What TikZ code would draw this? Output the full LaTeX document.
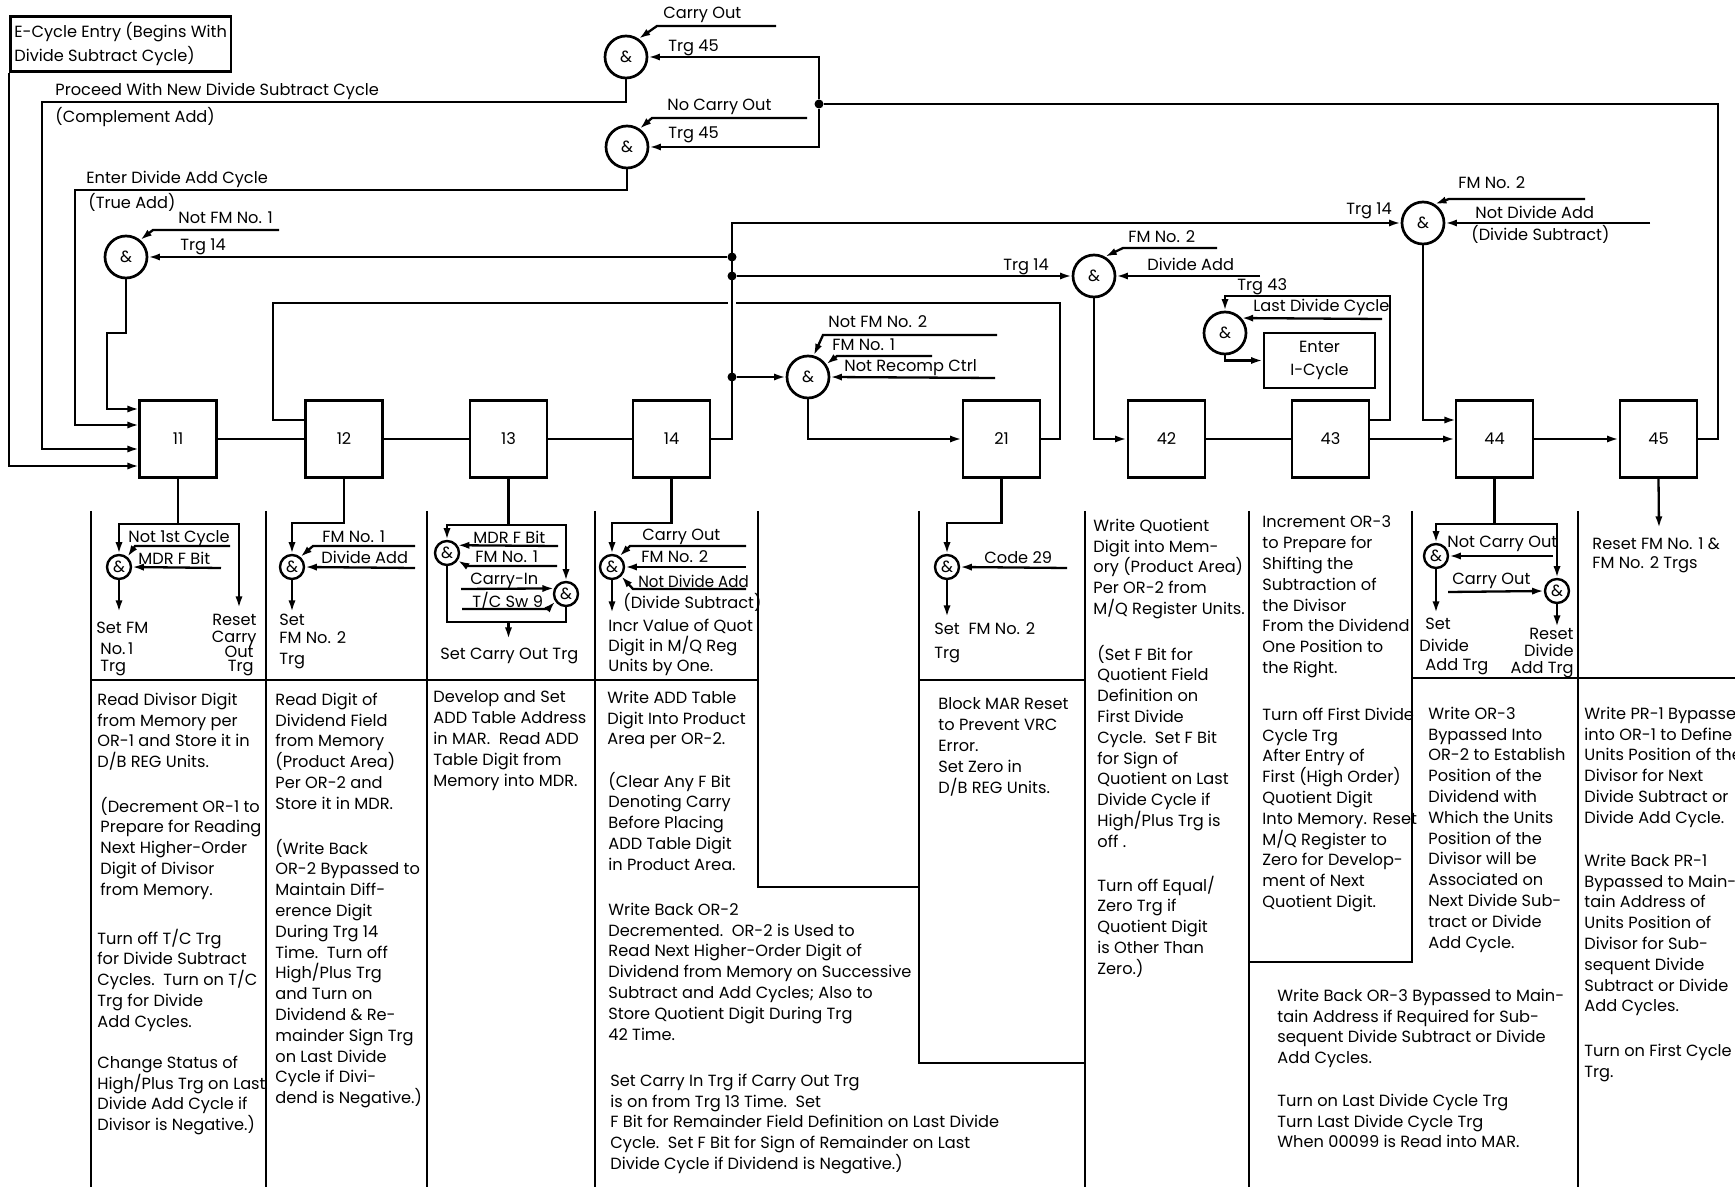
\documentclass[tikz,border=0pt]{standalone}
\usepackage{fontspec}
\setmainfont{Poppins}
\usetikzlibrary{arrows.meta,calc}
\newcommand\tfnt{\fontsize{8.1pt}{10.4pt}\selectfont}
\newcounter{lbc}
\newcommand\lab[4][lb]{\stepcounter{lbc}\node[#1] (t\thelbc) at (#2,#3+6) {#4};}
\newcommand\blk[3]{\stepcounter{lbc}\node[bk] (t\thelbc) at (#1,#2-8.5) {#3};}
\tikzset{
 ln/.style={line width=1.15pt},
 arr/.style={line width=1.15pt, -{Latex[length=5.8pt,width=3.6pt]}},
 box/.style={draw, line width=1.35pt, minimum width=38.5pt, minimum height=38.5pt, inner sep=0pt, font=\tfnt},
 gate/.style={draw, circle, line width=1.35pt, minimum size=21pt, inner sep=0pt, font=\tfnt},
 sg/.style={draw, circle, line width=1.2pt, minimum size=12pt, inner sep=0pt, font=\tfnt},
 jdot/.style={circle, fill, minimum size=4.5pt, inner sep=0pt},
 lb/.style={anchor=base west, inner sep=0pt, font=\tfnt},
 lbr/.style={anchor=base east, inner sep=0pt, font=\tfnt},
 bk/.style={anchor=north west, inner sep=0pt, align=left, font=\tfnt, execute at begin node=\strut},
}
\begin{document}
\begin{tikzpicture}[x=0.5pt,y=-0.5pt]
\fill[white] (0,0) rectangle (1735,1187);
\useasboundingbox (0,0) rectangle (1735,1187);

% ---------- boxes ----------
\node[box] (b11) at (178,439) {11};
\node[box] (b12) at (344,439) {12};
\node[box] (b13) at (508.5,439) {13};
\node[box] (b14) at (671.5,439) {14};
\node[box] (b21) at (1001.5,439) {21};
\node[box] (b42) at (1166.5,439) {42};
\node[box] (b43) at (1330.5,439) {43};
\node[box] (b44) at (1494.5,439) {44};
\node[box] (b45) at (1658.5,439) {45};

\node[draw, line width=1.35pt, anchor=north west, minimum width=110pt, minimum height=27.5pt, inner sep=2pt, align=left, font=\tfnt] (ecyc) at (9,15) {E-Cycle Entry (Begins With\\[1.5pt]Divide Subtract Cycle)};
\node[draw, line width=1.35pt, minimum width=55.5pt, minimum height=27.5pt, inner sep=0pt, align=center, font=\tfnt] (icyc) at (1319.5,360.5) {Enter\\[1pt]I-Cycle};

% ---------- gates ----------
\node[gate] (gA) at (626,57) {\&};
\node[gate] (gB) at (627,147) {\&};
\node[gate] (gC) at (126,257) {\&};
\node[gate] (gD) at (1094,276) {\&};
\node[gate] (gE) at (1423,223) {\&};
\node[gate] (gF) at (808,377) {\&};
\node[gate] (gG) at (1225,333) {\&};
\node[sg] (s11) at (119,567) {\&};
\node[sg] (s12) at (292,567) {\&};
\node[sg] (s13a) at (447,553) {\&};
\node[sg] (s13b) at (566,594) {\&};
\node[sg] (s14) at (612,567) {\&};
\node[sg] (s21) at (947,567) {\&};
\node[sg] (s44a) at (1436,556) {\&};
\node[sg] (s44b) at (1557,591) {\&};

% ---------- junctions ----------
\coordinate (jT) at (732,223);
\node[jdot] (j1) at (732,257) {};
\node[jdot] (j2) at (732,276) {};
\node[jdot] (j3) at (732,377) {};
\node[jdot] (jAB) at (819,104) {};

% ---------- feedback 21 -> 12 ----------
\coordinate (fb1) at (1060,303);
\coordinate (fb2) at (273,303);
\coordinate (i12) at (306,420);
\draw[ln] (b21.east) -| (fb1) -- (fb2) |- (i12);
\draw[white, line width=4pt] (732,295) -- (732,311);

% ---------- trunk from 14 ----------
\draw[arr] (b14.east) -| (jT) -- (gE.west);
\draw[arr] (j1) -- (gC.east);
\draw[arr] (j2) -- (gD.west);
\draw[arr] (j3) -- (gF.west);

% ---------- 45 feedback ----------
\coordinate (fbR) at (1718,104);
\draw[ln] (b45.east) -| (fbR) -- (jAB);
\draw[arr] (jAB) |- (gA.east);
\draw[arr] (jAB) |- (gB.east);

% ---------- entries to 11 ----------
\coordinate (i1) at (139,409);
\coordinate (i2) at (139,425);
\coordinate (i3) at (139,449);
\coordinate (i4) at (139,466);
\coordinate (cA) at (42,102);
\coordinate (cB) at (75,190);
\coordinate (cC) at (107,333);
\draw[arr] (ecyc.south west) |- (i4);
\draw[arr] (gA.south) |- (cA) |- (i3);
\draw[arr] (gB.south) |- (cB) |- (i2);
\draw[arr] (gC.south) |- (cC) |- (i1);

% ---------- gate inputs (top) ----------
\coordinate (eA) at (776,26);
\draw[arr] (eA) -- (657,26) -- (gA.55);
\coordinate (eB) at (807,118);
\draw[arr] (eB) -- (652,118) -- (gB.55);
\coordinate (eC) at (279,230);
\draw[arr] (eC) -- (153,230) -- (gC.50);
\coordinate (eD1) at (1217,248);
\draw[arr] (eD1) -- (1123,248) -- (gD.60);
\coordinate (eD2) at (1260,276);
\draw[arr] (eD2) -- (gD.east);
\coordinate (eE1) at (1585,199);
\draw[arr] (eE1) -- (1449,199) -- (gE.58);
\coordinate (eE2) at (1650,223);
\draw[arr] (eE2) -- (gE.east);
\coordinate (eF1) at (997,335);
\draw[arr] (eF1) -- (823,335) -- (gF.75);
\coordinate (eF2) at (932,356);
\draw[arr] (eF2) -- (837,356) -- (gF.35);
\coordinate (eF3) at (995,378);
\draw[arr] (eF3) -- (gF.east);
\draw[arr] (gF.south) |- (b21.west);
\draw[arr] (gD.south) |- (b42.west);
\coordinate (i44) at (1456,420);
\draw[arr] (gE.south) |- (i44);
\coordinate (o43) at (1369,420);
\coordinate (g43c) at (1390,296);
\draw[arr] (o43) -| (g43c) -| (gG.north);
\coordinate (eG) at (1382,319);
\draw[arr] (eG) -- (gG.42);
\draw[arr] (gG.south) |- (icyc.west);

% ---------- box chain ----------
\draw[ln] (b11.east) -- (b12.west);
\draw[ln] (b12.east) -- (b13.west);
\draw[ln] (b13.east) -- (b14.west);
\draw[ln] (b42.east) -- (b43.west);
\draw[arr] (b43.east) -- (b44.west);
\draw[arr] (b44.east) -- (b45.west);
\coordinate (r45) at (1659,528);
\draw[arr] (b45.south) -- (r45);

% ---------- column frame ----------
\draw[ln] (91,511) -- (91,1187);
\draw[ln] (266,511) -- (266,1187);
\draw[ln] (427,511) -- (427,1187);
\draw[ln] (595,511) -- (595,1187);
\draw[ln] (758,511) -- (758,887) -- (919,887);
\draw[ln] (919,511) -- (919,1063) -- (1085,1063);
\draw[ln] (1085,511) -- (1085,1187);
\draw[ln] (1249,511) -- (1249,1187);
\draw[ln] (1412,511) -- (1412,962) -- (1249,962);
\draw[ln] (1578,511) -- (1578,1187);
\draw[ln] (91,680) -- (758,680);
\draw[ln] (919,680) -- (1085,680);
\draw[ln] (1412,678) -- (1735,678);

% ---------- column 11 logic ----------
\coordinate (t11) at (178,524);
\coordinate (r11) at (239,608);
\draw[arr] (b11.south) -- (t11) -| (s11.north);
\draw[arr] (t11) -| (r11);
\coordinate (e111) at (230,546);
\draw[arr] (e111) -- (135,546) -- (s11.50);
\coordinate (e112) at (221,568);
\draw[arr] (e112) -- (s11.east);
\coordinate (o11) at (119,612);
\draw[arr] (s11.south) -- (o11);

% ---------- column 12 logic ----------
\coordinate (t12) at (344,523);
\draw[arr] (b12.south) -- (t12) -| (s12.north);
\coordinate (e121) at (415,546);
\draw[arr] (e121) -- (313,546) -- (s12.50);
\coordinate (e122) at (415,568);
\draw[arr] (e122) -- (s12.east);
\coordinate (o12) at (292,612);
\draw[arr] (s12.south) -- (o12);

% ---------- column 13 logic ----------
\coordinate (t13) at (508.5,525);
\draw[arr] (b13.south) -- (t13) -| (s13a.north);
\draw[arr] (t13) -| (s13b.north);
\coordinate (e131) at (558,546);
\draw[arr] (e131) -- (s13a.36);
\coordinate (e132) at (557,566);
\draw[arr] (e132) -- (467,566) -- (s13a.-35);
\coordinate (c13) at (508.5,622);
\draw[ln] (s13a.south) |- (c13) -| (s13b.south);
\coordinate (o13) at (508.5,639);
\draw[arr] (c13) -- (o13);
\coordinate (e133) at (461,589);
\draw[arr] (e133) -- (s13b.155);
\coordinate (e134) at (462,609);
\draw[arr] (e134) -- (548,609) -- (s13b.215);

% ---------- column 14 logic ----------
\coordinate (t14) at (671.5,523);
\draw[arr] (b14.south) -- (t14) -| (s14.north);
\coordinate (e141) at (746,546);
\draw[arr] (e141) -- (630,546) -- (s14.55);
\coordinate (e142) at (746,567);
\draw[arr] (e142) -- (s14.east);
\coordinate (e143) at (746,589);
\draw[arr] (e143) -- (633,589) -- (s14.-45);
\coordinate (o14) at (612,613);
\draw[arr] (s14.south) -- (o14);

% ---------- column 21 logic ----------
\coordinate (t21) at (1001.5,523);
\draw[arr] (b21.south) -- (t21) -| (s21.north);
\coordinate (e21) at (1067,568);
\draw[arr] (e21) -- (s21.east);
\coordinate (o21) at (947,617);
\draw[arr] (s21.south) -- (o21);

% ---------- column 44 logic ----------
\coordinate (t44) at (1494.5,524);
\draw[arr] (b44.south) -- (t44) -| (s44a.north);
\draw[arr] (t44) -| (s44b.north);
\coordinate (e441) at (1553,556);
\draw[arr] (e441) -- (s44a.east);
\coordinate (e442) at (1448,592);
\draw[arr] (e442) -- (s44b.west);
\coordinate (o441) at (1436,613);
\draw[arr] (s44a.south) -- (o441);
\coordinate (o442) at (1557,627);
\draw[arr] (s44b.south) -- (o442);

% ---------- top labels ----------
\lab{663}{13}{Carry Out}
\lab{668}{46}{Trg 45}
\lab{667}{105}{No Carry Out}
\lab{668}{133}{Trg 45}
\lab{55}{90}{Proceed With New Divide Subtract Cycle}
\lab{55}{117}{(Complement Add)}
\lab{86}{178}{Enter Divide Add Cycle}
\lab{88}{203}{(True Add)}
\lab{178}{218}{Not FM No. 1}
\lab{180}{245}{Trg 14}
\lab{1003}{265}{Trg 14}
\lab{1128}{237}{FM No. 2}
\lab{1147}{265}{Divide Add}
\lab{1237}{285}{Trg 43}
\lab{1253}{306}{Last Divide Cycle}
\lab{1346}{209}{Trg 14}
\lab{1458}{183}{FM No. 2}
\lab{1475}{213}{Not Divide Add}
\lab{1471}{235}{(Divide Subtract)}
\lab{828}{322}{Not FM No. 2}
\lab{832}{345}{FM No. 1}
\lab{844}{366}{Not Recomp Ctrl}

% ---------- column labels ----------
\lab{128}{536}{Not 1st Cycle}
\lab{138}{558}{MDR F Bit}
\lab{96}{627}{Set FM}
\lab{100}{648}{No.\,1}
\lab{100}{665}{Trg}
\lab[lbr]{257}{619}{Reset}
\lab[lbr]{257}{636}{Carry}
\lab[lbr]{254}{651}{Out}
\lab[lbr]{254}{665}{Trg}
\lab{322}{536}{FM No. 1}
\lab{321}{557}{Divide Add}
\lab{279}{619}{Set}
\lab{279}{637}{FM No. 2}
\lab{279}{658}{Trg}
\lab{473}{537}{MDR F Bit}
\lab{475}{556}{FM No. 1}
\lab{470}{578}{Carry-In}
\lab{472}{601}{T/C Sw 9}
\lab{440}{653}{Set Carry Out Trg}
\lab{642}{534}{Carry Out}
\lab{641}{556}{FM No. 2}
\lab{638}{581}{\scalebox{0.93}[1]{Not Divide Add}}
\lab{623}{602}{(Divide Subtract)}
\lab{608}{625}{Incr Value of Quot}
\lab{608}{645}{Digit in M/Q Reg}
\lab{608}{665}{Units by One.}
\lab{984}{557}{Code 29}
\lab{934}{628}{Set\ \ FM No. 2}
\lab{934}{652}{Trg}
\lab{1447}{541}{Not Carry Out}
\lab{1452}{578}{Carry Out}
\lab{1425}{623}{Set}
\lab{1419}{645}{Divide}
\lab{1425}{664}{Add Trg}
\lab[lbr]{1574}{633}{Reset}
\lab[lbr]{1574}{650}{Divide}
\lab[lbr]{1574}{667}{Add Trg}
\lab{1592}{543}{Reset FM No. 1 \&}
\lab{1592}{562}{FM No. 2 Trgs}

% ---------- text blocks ----------
\blk{97}{701}{Read Divisor Digit\\from Memory per\\OR-1 and Store it in\\D/B REG Units.}
\blk{100}{805}{(Decrement OR-1 to\\Prepare for Reading\\Next Higher-Order\\Digit of Divisor\\from Memory.}
\blk{97}{937}{Turn off T/C Trg\\for Divide Subtract\\Cycles.\ \ Turn on T/C\\Trg for Divide\\Add Cycles.}
\blk{97}{1064}{Change Status of\\High/Plus Trg on Last\\Divide Add Cycle if\\Divisor is Negative.)}

\blk{275}{701}{Read Digit of\\Dividend Field\\from Memory\\(Product Area)\\Per OR-2 and\\Store it in MDR.}
\blk{275}{847}{(Write Back\\OR-2 Bypassed to\\Maintain Diff-\\erence Digit\\During Trg 14\\Time.\ \ Turn off\\High/Plus Trg\\and Turn on\\Dividend \& Re-\\mainder Sign Trg\\on Last Divide\\Cycle if Divi-\\dend is Negative.)}

\blk{433}{699}{Develop and Set\\ADD Table Address\\in MAR.\ \ Read ADD\\Table Digit from\\Memory into MDR.}

\blk{607}{699}{Write ADD Table\\Digit Into Product\\Area per OR-2.}
\blk{608}{780}{(Clear Any F Bit\\Denoting Carry\\Before Placing\\ADD Table Digit\\in Product Area.}
\blk{608}{911}{Write Back OR-2\\Decremented.\ \ OR-2 is Used to\\Read Next Higher-Order Digit of\\Dividend from Memory on Successive\\Subtract and Add Cycles; Also to\\Store Quotient Digit During Trg\\42 Time.}
\blk{610}{1082}{Set Carry In Trg if Carry Out Trg\\is on from Trg 13 Time.\ \ Set\\F Bit for Remainder Field Definition on Last Divide\\Cycle.\ \ Set F Bit for Sign of Remainder on Last\\Divide Cycle if Dividend is Negative.)}

\blk{938}{706}{Block MAR Reset\\to Prevent VRC\\Error.\\Set Zero in\\D/B REG Units.}

\blk{1093}{527}{Write Quotient\\Digit into Mem-\\ory (Product Area)\\Per OR-2 from\\M/Q Register Units.}
\blk{1097}{653}{(Set F Bit for\\Quotient Field\\Definition on\\First Divide\\Cycle.\ \ Set F Bit\\for Sign of\\Quotient on Last\\Divide Cycle if\\High/Plus Trg is\\off .}
\blk{1097}{884}{Turn off Equal/\\Zero Trg if\\Quotient Digit\\is Other Than\\Zero.)}

\blk{1262}{524}{Increment OR-3\\to Prepare for\\Shifting the\\Subtraction of\\the Divisor\\From the Dividend\\One Position to\\the Right.}
\blk{1262}{716}{Turn off First Divide\\Cycle Trg\\After Entry of\\First (High Order)\\Quotient Digit\\Into Memory. Reset\\M/Q Register to\\Zero for Develop-\\ment of Next\\Quotient Digit.}
\blk{1277}{997}{Write Back OR-3 Bypassed to Main-\\tain Address if Required for Sub-\\sequent Divide Subtract or Divide\\Add Cycles.}
\blk{1277}{1102}{Turn on Last Divide Cycle Trg\\Turn Last Divide Cycle Trg\\When 00099 is Read into MAR.}

\blk{1428}{715}{Write OR-3\\Bypassed Into\\OR-2 to Establish\\Position of the\\Dividend with\\Which the Units\\Position of the\\Divisor will be\\Associated on\\Next Divide Sub-\\tract or Divide\\Add Cycle.}

\blk{1584}{715}{Write PR-1 Bypassed\\into OR-1 to Define\\Units Position of the\\Divisor for Next\\Divide Subtract or\\Divide Add Cycle.}
\blk{1584}{862}{Write Back PR-1\\Bypassed to Main-\\tain Address of\\Units Position of\\Divisor for Sub-\\sequent Divide\\Subtract or Divide\\Add Cycles.}
\blk{1584}{1052}{Turn on First Cycle\\Trg.}
\end{tikzpicture}
\end{document}
